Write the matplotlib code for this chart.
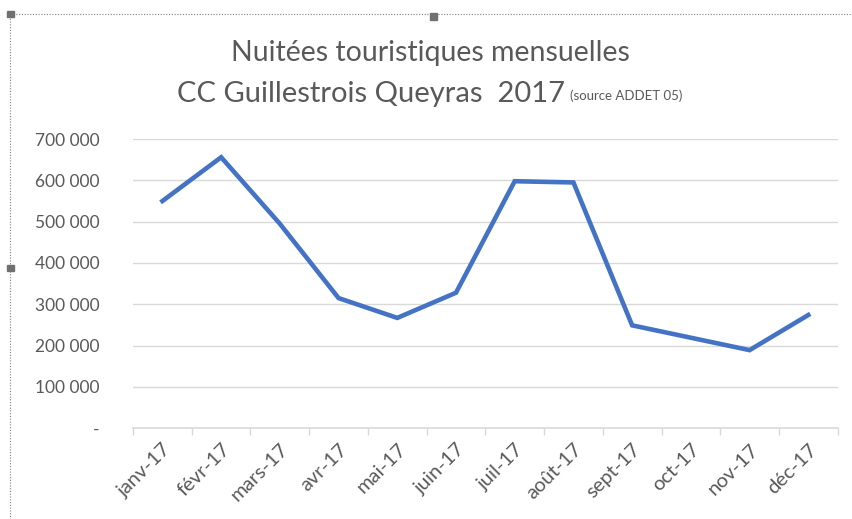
import matplotlib
matplotlib.use('Agg')
import matplotlib.pyplot as plt
from matplotlib.patches import Rectangle
import numpy as np

months = ['janv-17', 'févr-17', 'mars-17', 'avr-17', 'mai-17', 'juin-17',
          'juil-17', 'août-17', 'sept-17', 'oct-17', 'nov-17', 'déc-17']
nuitees = [550000, 656000, 495000, 315000, 267000, 328000,
           598000, 595000, 249000, 219000, 189000, 274000]
yticks = [0, 100000, 200000, 300000, 400000, 500000, 600000, 700000]

plt.rcParams['font.family'] = ['Lato', 'DejaVu Sans']
grey = '#595959'

fig = plt.figure(figsize=(8.53, 5.19), dpi=100)
ax = fig.add_axes([0.156, 0.175, 0.826, 0.557])

x = np.arange(len(months))
ax.plot(x, nuitees, color='#4472C4', lw=3.3, solid_joinstyle='miter')

ax.set_xlim(-0.5, len(months) - 0.5)
ax.set_ylim(0, 700000)
ax.set_yticks(yticks)
ax.set_yticklabels(['-' if v == 0 else f'{v:,}'.replace(',', ' ') for v in yticks])
ax.grid(axis='y', color='#d9d9d9', lw=1.0)
ax.set_axisbelow(True)

ax.set_xticks(x)
ax.set_xticklabels(months, rotation=45, ha='right', va='top', rotation_mode='anchor')
ax.set_xticks(np.arange(-0.5, len(months)), minor=True)
ax.tick_params(axis='x', which='major', length=0, pad=9, labelsize=14.5, labelcolor=grey)
ax.tick_params(axis='x', which='minor', length=5, color='#d9d9d9', width=1)
ax.tick_params(axis='y', length=0, pad=24, labelsize=12.5, labelcolor=grey)

for s in ['top', 'right', 'left']:
    ax.spines[s].set_visible(False)
ax.spines['bottom'].set_color('#d9d9d9')
ax.spines['bottom'].set_linewidth(1.2)

fig.text(0.505, 0.897, 'Nuitées touristiques mensuelles', ha='center', va='center',
         fontsize=20.5, color=grey)
fig.text(0.435, 0.818, 'CC Guillestrois Queyras  2017', ha='center', va='center',
         fontsize=21, color=grey)
fig.text(0.668, 0.816, '(source ADDET 05)', ha='left', va='center',
         fontsize=9.5, color=grey)

# dotted selection frame and handles
fig.patches.append(Rectangle((0.012, -0.05), 1.1, 1.023, transform=fig.transFigure,
                             fill=False, ls=(0, (1, 1.5)), lw=0.8, ec='#7f7f7f'))
for hx, hy in [(0.012, 0.973), (0.508, 0.968), (0.012, 0.483)]:
    fig.patches.append(Rectangle((hx - 0.004, hy - 0.006), 0.008, 0.012,
                                 transform=fig.transFigure, color='#707070'))

fig.savefig('out.png', dpi=100)
